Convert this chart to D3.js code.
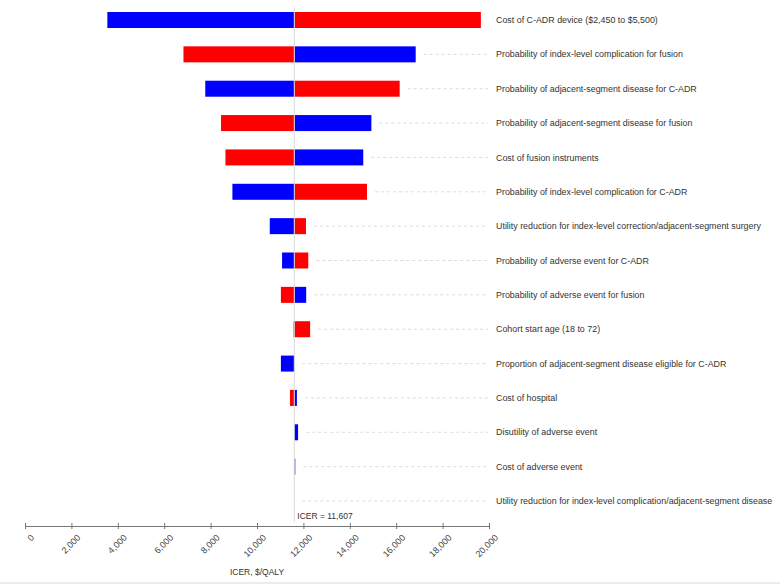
<!DOCTYPE html>
<html>
<head>
<meta charset="utf-8">
<script src="https://cdn.jsdelivr.net/npm/d3@7"></script>
<style>
  body { margin: 0; background: #fff; }
  svg { font-family: "Liberation Sans", Arial, sans-serif; }
</style>
</head>
<body>
<svg id="tornado" width="780" height="584"></svg>
<script>
const params = [
  "Cost of C-ADR device ($2,450 to $5,500)",
  "Probability of index-level complication for fusion",
  "Probability of adjacent-segment disease for C-ADR",
  "Probability of adjacent-segment disease for fusion",
  "Cost of fusion instruments",
  "Probability of index-level complication for C-ADR",
  "Utility reduction for index-level correction/adjacent-segment surgery",
  "Probability of adverse event for C-ADR",
  "Probability of adverse event for fusion",
  "Cohort start age (18 to 72)",
  "Proportion of adjacent-segment disease eligible for C-ADR",
  "Cost of hospital",
  "Disutility of adverse event",
  "Cost of adverse event",
  "Utility reduction for index-level complication/adjacent-segment disease"
];
// ICER at the low (blue) and high (red) value of each parameter
const lowVals = [3550, 16840, 7770, 14930, 14580, 8940, 10550, 11080, 12120, 11580, 11030, 11720, 11770, 11650, 11607];
const highVals = [19650, 6830, 16150, 8450, 8640, 14740, 12110, 12210, 11030, 12290, 11607, 11420, 11607, 11607, 11607];
const baseIcer = 11607;
const xTicks = [0, 2000, 4000, 6000, 8000, 10000, 12000, 14000, 16000, 18000, 20000];

const svg = d3.select("#tornado");
const x = d3.scaleLinear().domain([0, 20000]).range([25, 489]);
const y = d3.scalePoint().domain(params).range([20, 501]);
const barH = 16;
const labelX = 496;

const rows = params.map((p, i) => ({ p, low: lowVals[i], high: highVals[i] }));

// leader lines
svg.append("g")
  .selectAll("line")
  .data(rows)
  .enter()
  .append("line")
  .attr("x1", (d) => x(Math.max(d.low, d.high, baseIcer)) + 8)
  .attr("x2", labelX - 8)
  .attr("y1", (d) => y(d.p))
  .attr("y2", (d) => y(d.p))
  .attr("stroke", "#dcdcdc")
  .attr("stroke-dasharray", "3,3")
  .attr("display", (d) => (x(Math.max(d.low, d.high)) + 8 < labelX - 10 ? null : "none"));

// bars
const bars = svg.append("g");
[["low", "#0000ff"], ["high", "#ff0000"]].forEach(([key, color]) => {
  bars.selectAll(".bar-" + key)
    .data(rows)
    .enter()
    .append("rect")
    .attr("class", "bar-" + key)
    .attr("x", (d) => Math.min(x(d[key]), x(baseIcer)))
    .attr("y", (d) => y(d.p) - barH / 2)
    .attr("width", (d) => Math.abs(x(d[key]) - x(baseIcer)))
    .attr("height", barH)
    .attr("fill", color);
});

// base case line
svg.append("line")
  .attr("x1", x(baseIcer))
  .attr("x2", x(baseIcer))
  .attr("y1", 8)
  .attr("y2", 522)
  .attr("stroke", "#d8d8d8")
  .attr("stroke-width", 1);

svg.append("text")
  .attr("x", x(baseIcer) + 3)
  .attr("y", 519)
  .attr("font-size", 8.5)
  .attr("fill", "#333")
  .text("ICER = " + d3.format(",")(baseIcer));

// labels
svg.append("g")
  .selectAll("text")
  .data(params)
  .enter()
  .append("text")
  .attr("x", labelX)
  .attr("y", (d) => y(d))
  .attr("dy", "0.35em")
  .attr("font-size", 8.9)
  .attr("fill", "#333")
  .text((d) => d);

// axis
const axis = svg.append("g")
  .attr("transform", "translate(0,526)")
  .call(d3.axisBottom(x).tickValues(xTicks).tickFormat(d3.format(",")).tickSizeOuter(0));
axis.select(".domain").attr("stroke", "#777");
axis.selectAll(".tick line").attr("y1", -3).attr("y2", 3).attr("stroke", "#777");
axis.selectAll(".tick text")
  .attr("y", 0)
  .attr("dy", "0.35em")
  .attr("transform", "translate(7,10) rotate(-45)")
  .style("text-anchor", "end")
  .attr("font-size", 9)
  .attr("fill", "#444");

svg.append("text")
  .attr("x", (x(0) + x(20000)) / 2)
  .attr("y", 575)
  .attr("text-anchor", "middle")
  .attr("font-size", 8.5)
  .attr("fill", "#333")
  .text("ICER, $/QALY");

svg.append("rect")
  .attr("x", 0)
  .attr("y", 582)
  .attr("width", 780)
  .attr("height", 2)
  .attr("fill", "#ececec");
</script>
</body>
</html>
